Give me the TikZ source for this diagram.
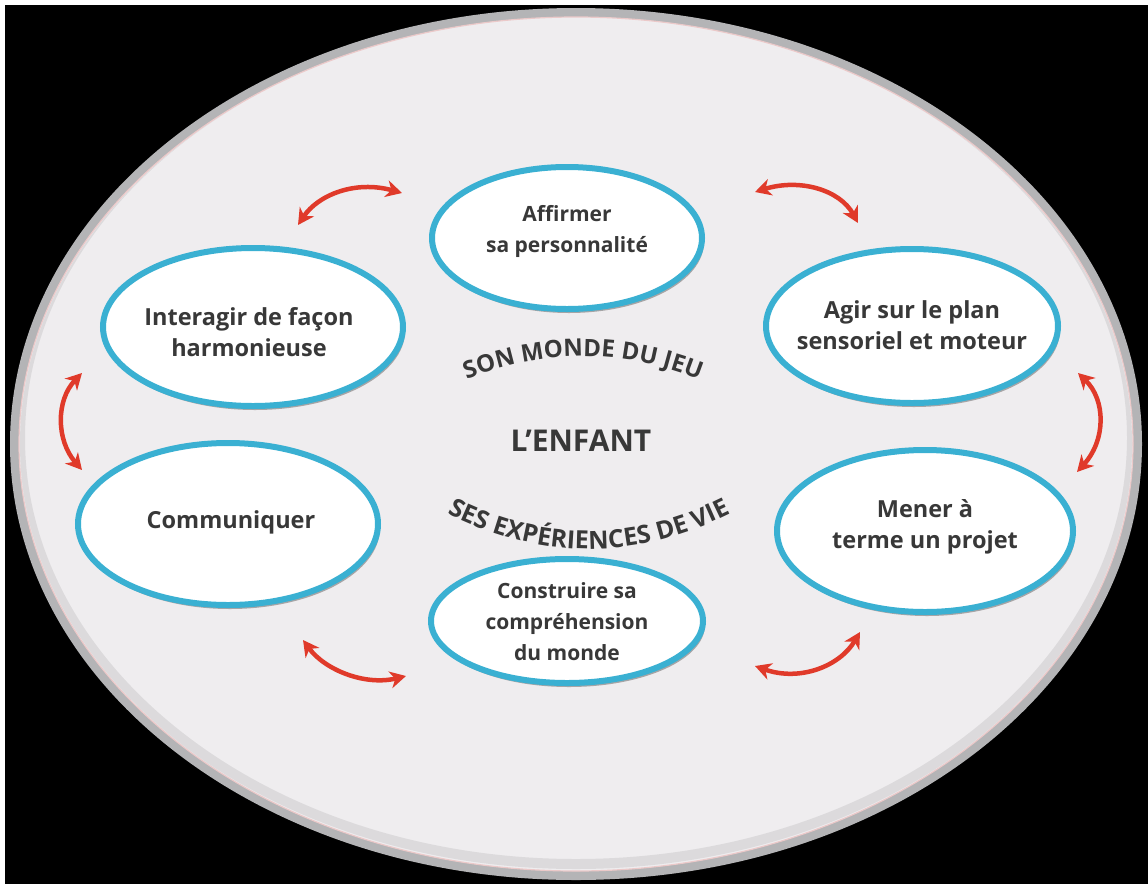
\documentclass[tikz,border=0pt]{standalone}
\usepackage{fontspec}
\setmainfont{Open Sans}
\usetikzlibrary{shapes.geometric,shadows,arrows.meta,decorations.text}
\definecolor{cyanb}{HTML}{3AB0D2}
\definecolor{txt}{HTML}{383838}
\definecolor{redarr}{HTML}{E03A2A}
\definecolor{platefill}{HTML}{EFEDEF}
\definecolor{rimgray}{HTML}{B4B4B6}
\definecolor{rimpink}{HTML}{EBC9C9}
\newcommand\myarcfont{\fontsize{24}{24}\selectfont\bfseries\color{txt}}
\newcommand\myarcfontb{\fontsize{25}{25}\selectfont\bfseries\color{txt}}
\begin{document}
\begin{tikzpicture}[x=1pt,y=-1pt,
  bubble/.style={ellipse, draw=cyanb, line width=6pt, fill=white, inner sep=0pt,
    drop shadow={shadow xshift=2pt, shadow yshift=-4pt, opacity=0.3, fill=black}},
  bubbletext/.style={text=txt, font=\fontsize{21}{31}\selectfont\bfseries, align=center, inner sep=0pt},
  sidetext/.style={text=txt, font=\fontsize{23.5}{31}\selectfont\bfseries, align=center, inner sep=0pt},
  twoway/.style={draw=redarr, line width=4.5pt,
    {Stealth[length=16pt,width=17pt,inset=5pt]}-{Stealth[length=16pt,width=17pt,inset=5pt]}}]
\useasboundingbox (0,0) rectangle (1148,884);
\fill[white] (0,0) rectangle (1148,884);
\fill[black] (5,5) rectangle (1148,884);
% plate
\fill[rimgray] (576,444) ellipse [x radius=566, y radius=436];
\fill[platefill] (576,444) ellipse [x radius=557, y radius=427];
\draw[rimpink, line width=1.2pt] (576,444) ellipse [x radius=557, y radius=427];
\begin{scope}
\clip (576,444) ellipse [x radius=556, y radius=426];
\draw[black, opacity=0.08, line width=10pt] (576,438) ellipse [x radius=556, y radius=426];
\end{scope}
% bubbles
\node[bubble, minimum width=270pt, minimum height=142pt] (aff) at (567,238) {};
\node[bubble, minimum width=300pt, minimum height=158pt] (inter) at (253,327) {};
\node[bubble, minimum width=292pt, minimum height=154pt] (agir) at (912,326) {};
\node[bubble, minimum width=300pt, minimum height=162pt] (comm) at (228,524) {};
\node[bubble, minimum width=296pt, minimum height=162pt] (mener) at (925,531) {};
\node[bubble, minimum width=272pt, minimum height=124pt] (constr) at (567,621) {};
% texts
\node[bubbletext] (taff) at (567,231) {Affirmer\\sa personnalité};
\node[sidetext] (tinter) at (249,332) {Interagir de façon\\harmonieuse};
\node[sidetext] (tagir) at (912,325) {Agir sur le plan\\sensoriel et moteur};
\node[sidetext] (tcomm) at (231,522) {Communiquer};
\node[sidetext] (tmener) at (925,527) {Mener à\\terme un projet};
\node[bubbletext] (tconstr) at (567,622) {Construire sa\\compréhension\\du monde};
\node[text=txt, font=\fontsize{30}{30}\selectfont\bfseries, inner sep=0pt] (enfant) at (581,441) {L'ENFANT};
% arc texts
\path[decorate, decoration={text along path, text align=center,
  text={|\myarcfont|SON MONDE DU JEU}}]
  (440,391) .. controls (535,345) and (631,345) .. (726,391);
\path[decorate, decoration={text along path, text align=center,
  text={|\myarcfontb|SES EXPÉRIENCES DE VIE}}]
  (429,504) .. controls (536,564) and (642,564) .. (749,504);
% arrows
\coordinate (a1s) at (298,225); \coordinate (a1e) at (402,193);
\coordinate (a2s) at (755,192); \coordinate (a2e) at (858,223);
\coordinate (a3s) at (1078,373); \coordinate (a3e) at (1077,472);
\coordinate (a4s) at (82,373); \coordinate (a4e) at (82,470);
\coordinate (a5s) at (303,640); \coordinate (a5e) at (406,676);
\coordinate (a6s) at (755,666); \coordinate (a6e) at (860,632);
\draw[twoway] (a1s) .. controls (318,195) and (355,180) .. (a1e);
\draw[twoway] (a2s) .. controls (800,178) and (840,190) .. (a2e);
\draw[twoway] (a3s) .. controls (1106,400) and (1106,440) .. (a3e);
\draw[twoway] (a4s) .. controls (56,400) and (56,440) .. (a4e);
\draw[twoway] (a5s) .. controls (325,670) and (365,686) .. (a5e);
\draw[twoway] (a6s) .. controls (800,682) and (840,666) .. (a6e);
\end{tikzpicture}
\end{document}
